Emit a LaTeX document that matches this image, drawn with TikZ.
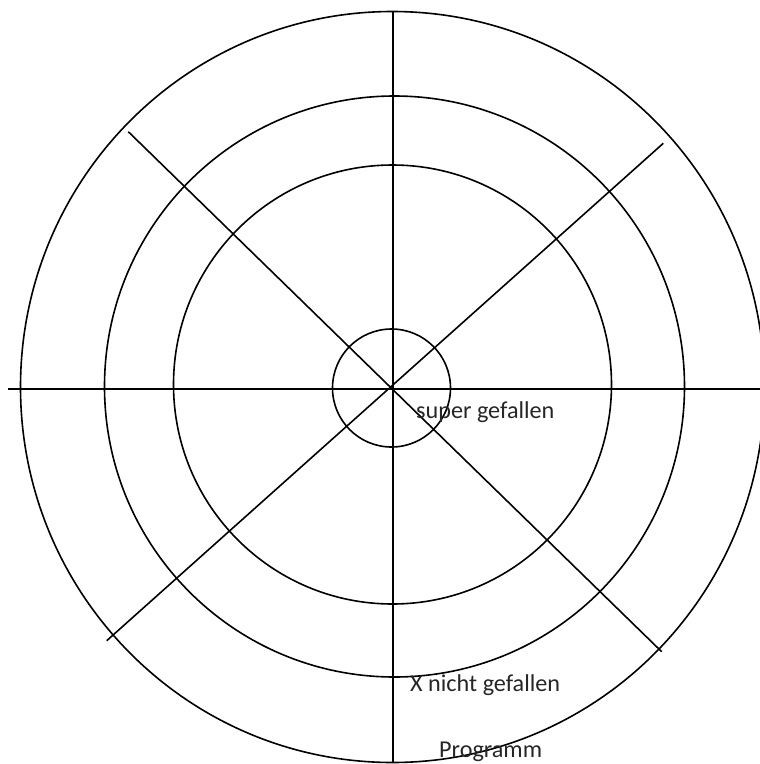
\documentclass[tikz,border=0pt]{standalone}
\usepackage{fontspec}
\setmainfont{Carlito}
\begin{document}
\begin{tikzpicture}[x=1pt,y=-1pt,
  ring/.style={draw=black,line width=1.6pt},
  spoke/.style={draw=black,line width=1.6pt},
  lbl/.style={anchor=base west,inner sep=0pt,text=black!85,font=\fontsize{24.2}{29}\selectfont}]
\useasboundingbox (0,0) rectangle (760,764);
% rings
\draw[ring] (392.5,387) ellipse [x radius=372, y radius=375.5];
\draw[ring] (394.5,386.5) ellipse [x radius=290, y radius=290.5];
\draw[ring] (392.5,384.5) ellipse [x radius=219, y radius=219.5];
\draw[ring] (391.5,388) circle [radius=59];
% spokes
\coordinate (top) at (392.7,11);
\coordinate (bot) at (392.7,762);
\coordinate (lft) at (8,389);
\coordinate (rgt) at (760,389);
\coordinate (nw) at (128.3,131.7);
\coordinate (se) at (661.7,651.7);
\coordinate (ne) at (663.3,143.3);
\coordinate (sw) at (106.7,640.7);
\draw[spoke] (top) -- (bot);
\draw[spoke] (lft) -- (rgt);
\draw[spoke] (nw) -- (se);
\draw[spoke] (ne) -- (sw);
% labels
\node[lbl] (super) at (416,418) {super gefallen};
\node[lbl] (nicht) at (410,691) {X nicht gefallen};
\node[lbl] (prog) at (439,757.5) {Programm};
\end{tikzpicture}
\end{document}
